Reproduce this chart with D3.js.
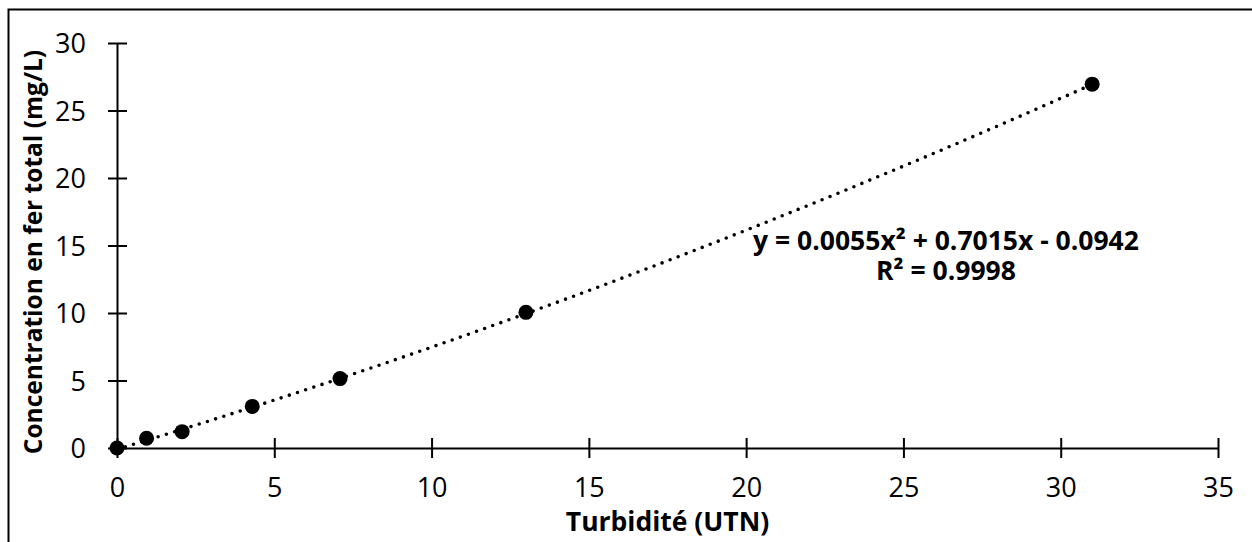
<!DOCTYPE html>
<html>
<head>
<meta charset="utf-8">
<script src="https://cdn.jsdelivr.net/npm/d3@7"></script>
<style>
  body { margin: 0; background: #fff; }
  svg { display: block; font-family: "Open Sans", sans-serif; }
  .axis path, .axis line { stroke: #000; stroke-width: 2; }
  .title { font-weight: bold; font-size: 26.5px; fill: #000; }
</style>
</head>
<body>
<div id="chart"></div>
<script>

// measured points
var turbidity = [0, 0.94, 2.07, 4.30, 7.09, 13.0, 31.0];
var ironConc  = [0, 0.72, 1.21, 3.08, 5.14, 10.05, 26.95];

// trendline from the chart label: y = a x^2 + b x + c
var trendCoef = [0.0055, 0.7015, -0.0942];
var trendLabel = ["y = 0.0055x² + 0.7015x - 0.0942", "R² = 0.9998"];

var xTicks = [0, 5, 10, 15, 20, 25, 30, 35];
var yTicks = [0, 5, 10, 15, 20, 25, 30];

var W = 1252, H = 542;
var margin = { top: 43, right: 34, bottom: 94, left: 117 };
var width = W - margin.left - margin.right,
    height = H - margin.top - margin.bottom;

var root = d3.select("#chart").append("svg")
    .attr("width", W)
    .attr("height", H);

// outer chart border (only top/left fall inside the picture)
root.append("rect")
    .attr("x", 8.5).attr("y", 9.5)
    .attr("width", W + 20).attr("height", H + 20)
    .attr("fill", "none")
    .attr("stroke", "#000")
    .attr("stroke-width", 2);

var svg = root.append("g")
    .attr("transform", "translate(" + margin.left + "," + margin.top + ")");

var x = d3.scaleLinear().domain([0, 35]).range([0, width]);
var y = d3.scaleLinear().domain([0, 30]).range([height, 0]);

// axes, ticks crossing the line
var xAxis = d3.axisBottom(x).tickValues(xTicks).tickSize(10).tickPadding(20).tickSizeOuter(0);
var yAxis = d3.axisLeft(y).tickValues(yTicks).tickSize(10).tickPadding(21).tickSizeOuter(0);

var gx = svg.append("g")
    .attr("class", "x-axis axis")
    .attr("transform", "translate(0," + height + ")")
    .call(xAxis);
gx.selectAll(".tick line").attr("y1", -10).attr("y2", 10);

var gy = svg.append("g")
    .attr("class", "y-axis axis")
    .call(yAxis);
gy.selectAll(".tick line").attr("x1", -9).attr("x2", 10);

svg.selectAll(".axis")
    .attr("font-family", "'Open Sans', sans-serif")
    .attr("font-size", 27);
gy.selectAll(".tick text").attr("dy", "0.36em");

// trendline
var trendX = d3.range(0, 31.0001, 0.25);
var trend = d3.line()
    .x(function(d) { return x(d); })
    .y(function(d) { return y(trendCoef[0] * d * d + trendCoef[1] * d + trendCoef[2]); });

svg.append("path")
    .datum(trendX)
    .attr("d", trend)
    .attr("fill", "none")
    .attr("stroke", "#000")
    .attr("stroke-width", 3.6)
    .attr("stroke-linecap", "round")
    .attr("stroke-dasharray", "0 8.6");

// points
svg.selectAll(".dot")
    .data(turbidity)
    .enter().append("circle")
    .attr("class", "dot")
    .attr("cx", function(d) { return x(d); })
    .attr("cy", function(d, i) { return y(ironConc[i]); })
    .attr("r", 7.5)
    .attr("fill", "#000");

// equation label
var eq = svg.append("text")
    .attr("class", "title")
    .attr("text-anchor", "middle")
    .attr("x", 946 - margin.left)
    .attr("y", 250 - margin.top);
eq.append("tspan").text(trendLabel[0]);
eq.append("tspan")
    .attr("x", 946 - margin.left)
    .attr("dy", 30)
    .text(trendLabel[1]);

// axis titles
root.append("text")
    .attr("class", "title")
    .attr("text-anchor", "middle")
    .attr("x", margin.left + width / 2)
    .attr("y", 531)
    .text("Turbidité (UTN)");

root.append("text")
    .attr("class", "title")
    .attr("text-anchor", "middle")
    .attr("font-size", "24.5px")
    .style("font-size", "24.5px")
    .attr("transform", "translate(42," + 252 + ") rotate(-90)")
    .text("Concentration en fer total (mg/L)");

</script>
</body>
</html>
